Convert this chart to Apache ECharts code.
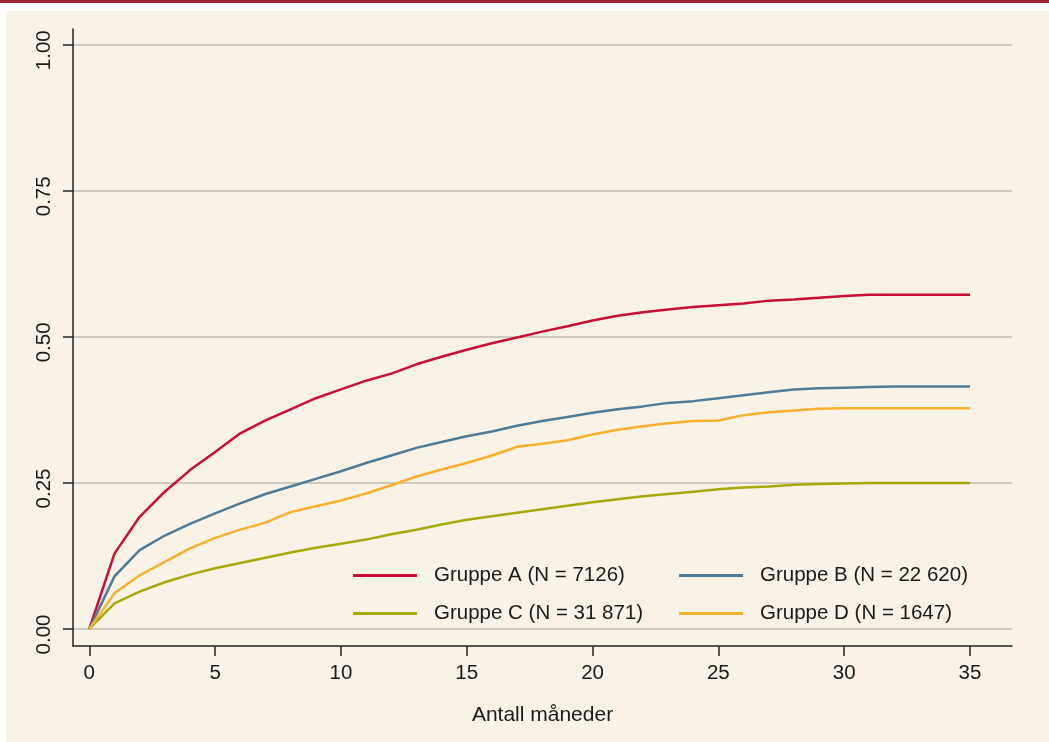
<!DOCTYPE html>
<html>
<head>
<meta charset="utf-8">
<script src="https://cdn.jsdelivr.net/npm/echarts@6/dist/echarts.min.js"></script>
<style>
html,body{margin:0;padding:0;background:#ffffff;width:1049px;height:742px;overflow:hidden;}
#redbar{position:absolute;left:0;top:0;width:1049px;height:3px;background:#a1262f;}
#cream{position:absolute;left:6px;top:11px;right:0;bottom:0;background:#f8f2e7;}
#chart{position:absolute;left:0;top:0;width:1049px;height:742px;}
</style>
</head>
<body>
<div id="redbar"></div>
<div id="cream"></div>
<div id="chart"></div>
<script>
const months = Array.from({length: 36}, (_, i) => i);
const xTicks = [0, 5, 10, 15, 20, 25, 30, 35];
const yTicks = [0, 0.25, 0.5, 0.75, 1];
const yTickLabels = ['0.00', '0.25', '0.50', '0.75', '1.00'];
const seriesNames = ['Gruppe A (N = 7126)', 'Gruppe B (N = 22 620)', 'Gruppe C (N = 31 871)', 'Gruppe D (N = 1647)'];
const gruppeA = [0, 0.129, 0.192, 0.235, 0.272, 0.303, 0.335, 0.357, 0.376, 0.395, 0.410, 0.425, 0.437, 0.453, 0.466, 0.478, 0.489, 0.499, 0.509, 0.518, 0.528, 0.536, 0.542, 0.547, 0.551, 0.554, 0.557, 0.562, 0.564, 0.567, 0.570, 0.572, 0.572, 0.572, 0.572, 0.572];
const gruppeB = [0, 0.090, 0.135, 0.160, 0.180, 0.198, 0.215, 0.231, 0.244, 0.257, 0.270, 0.284, 0.297, 0.310, 0.320, 0.330, 0.338, 0.348, 0.356, 0.363, 0.370, 0.376, 0.381, 0.387, 0.390, 0.395, 0.400, 0.405, 0.410, 0.412, 0.413, 0.414, 0.415, 0.415, 0.415, 0.415];
const gruppeC = [0, 0.044, 0.064, 0.080, 0.093, 0.104, 0.113, 0.122, 0.131, 0.139, 0.146, 0.153, 0.162, 0.170, 0.179, 0.187, 0.193, 0.199, 0.205, 0.211, 0.217, 0.222, 0.227, 0.231, 0.235, 0.239, 0.242, 0.244, 0.247, 0.248, 0.249, 0.250, 0.250, 0.250, 0.250, 0.250];
const gruppeD = [0, 0.061, 0.092, 0.115, 0.138, 0.156, 0.170, 0.182, 0.200, 0.210, 0.220, 0.232, 0.246, 0.261, 0.273, 0.284, 0.297, 0.312, 0.317, 0.323, 0.333, 0.341, 0.347, 0.352, 0.356, 0.357, 0.366, 0.371, 0.374, 0.377, 0.378, 0.378, 0.378, 0.378, 0.378, 0.378];

const colors = ['#c90f34', '#4d7b98', '#a9a80a', '#fbb02d'];
const allData = [gruppeA, gruppeB, gruppeC, gruppeD];
const FONT = '"Liberation Sans", Arial, sans-serif';
const TXT = '#1a1a1a';

const chart = echarts.init(document.getElementById('chart'), null, {renderer: 'canvas'});

const legendCommon = {
  orient: 'vertical',
  top: 565,
  padding: 0,
  itemWidth: 64,
  itemHeight: 3,
  itemGap: 17,
  icon: 'rect',
  textStyle: {fontFamily: FONT, fontSize: 20.5, color: TXT, lineHeight: 20, padding: [0, 0, 0, 12]},
  selectedMode: false
};

chart.setOption({
  animation: false,
  backgroundColor: 'transparent',
  color: colors,
  grid: {left: 73, right: 37, top: 29, bottom: 96, containLabel: false},
  legend: [
    Object.assign({}, legendCommon, {left: 353, data: [seriesNames[0], seriesNames[2]]}),
    Object.assign({}, legendCommon, {left: 679, data: [seriesNames[1], seriesNames[3]]})
  ],
  xAxis: {
    type: 'value',
    min: -0.648,
    max: 36.67,
    name: 'Antall måneder',
    nameLocation: 'middle',
    nameGap: 59,
    nameTextStyle: {fontFamily: FONT, fontSize: 21, color: TXT},
    axisLine: {show: true, onZero: false, lineStyle: {color: '#222', width: 1.5}},
    axisTick: {show: true, length: 10, lineStyle: {color: '#222', width: 1.5}, customValues: xTicks},
    axisLabel: {fontFamily: FONT, fontSize: 20.5, color: TXT, margin: 17, customValues: xTicks},
    splitLine: {show: false}
  },
  yAxis: {
    type: 'value',
    min: -0.0291,
    max: 1.0269,
    axisLine: {show: true, onZero: false, lineStyle: {color: '#222', width: 1.5}},
    axisTick: {show: true, length: 10, lineStyle: {color: '#222', width: 1.5}, customValues: yTicks},
    axisLabel: {
      fontFamily: FONT, fontSize: 20.5, color: TXT, margin: 18, rotate: 90,
      padding: [0, 11, 0, 0],
      customValues: yTicks,
      formatter: function (v) {
        const i = yTicks.findIndex(t => Math.abs(t - v) < 1e-9);
        return i >= 0 ? yTickLabels[i] : '';
      }
    },
    splitLine: {show: true, lineStyle: {color: '#c0bcb4', width: 1.5}}
  },
  series: seriesNames.map((name, k) => ({
    name: name,
    type: 'line',
    data: months.map((m, i) => [m, allData[k][i]]),
    symbol: 'none',
    showSymbol: false,
    lineStyle: {width: 2.5, color: colors[k]},
    itemStyle: {color: colors[k]},
    z: 3
  }))
});
</script>
</body>
</html>
